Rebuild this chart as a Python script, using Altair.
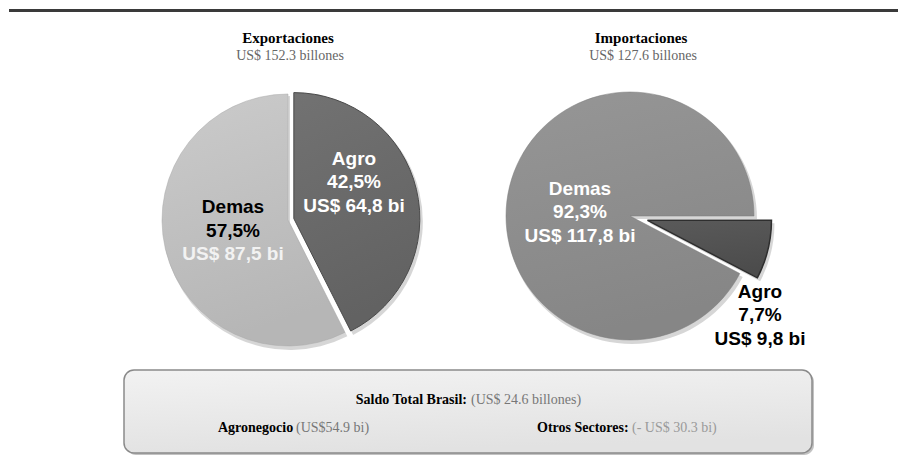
import math
import altair as alt
import pandas as pd

# ---------------- data ----------------
pies = ["Exportaciones", "Importaciones"]
pie_totals = [152.3, 127.6]
categories = ["Agro", "Demas"]
export_values = [64.8, 87.5]
import_values = [9.8, 117.8]
export_pcts = [42.5, 57.5]
import_pcts = [7.7, 92.3]
saldo_label = "Saldo Total Brasil:"
saldo_value = "(US$ 24.6 billones)"
agro_label = "Agronegocio"
agro_value = "(US$54.9 bi)"
otros_label = "Otros Sectores:"
otros_value = "(- US$ 30.3 bi)"


def comma(v, fmt):
    return format(v, fmt).replace(".", ",")


rows = []
for pie, vals, pcts in zip(pies, [export_values, import_values], [export_pcts, import_pcts]):
    tot = sum(vals)
    cum = 0.0
    for cat, v, p in zip(categories, vals, pcts):
        rows.append(dict(pie=pie, category=cat, value=v, pct=p,
                         start=cum / tot, end=(cum + v) / tot,
                         l1=cat, l2=comma(p, ".1f") + "%",
                         l3="US$ " + comma(v, ".1f") + " bi"))
        cum += v
df = pd.DataFrame(rows)

# ---------------- layout ----------------
W, H = 890, 450
LAYOUT = {
    "Exportaciones": dict(cx=280, cy=212, r=126, rot=0.0,
                          explode={"Agro": 6, "Demas": 0}, tx=280),
    "Importaciones": dict(cx=622, cy=208, r=124, rot=math.pi / 2,
                          explode={"Agro": 18, "Demas": 0}, tx=633),
}
FILLS = {
    ("Exportaciones", "Agro"): ("#727272", "#626262"),
    ("Exportaciones", "Demas"): ("#cbcbcb", "#b6b6b6"),
    ("Importaciones", "Agro"): ("#5a5a5a", "#4c4c4c"),
    ("Importaciones", "Demas"): ("#969696", "#868686"),
}
STROKES = {
    ("Exportaciones", "Agro"): ("#4a4a4a", 1),
    ("Exportaciones", "Demas"): ("#a8a8a8", 0.5),
    ("Importaciones", "Agro"): ("#2e2e2e", 1.5),
    ("Importaciones", "Demas"): ("#7a7a7a", 0.5),
}
LABELS = {
    ("Exportaciones", "Agro"): dict(x=346, y=[151, 174, 198], col=["white", "white", "white"]),
    ("Exportaciones", "Demas"): dict(x=225, y=[199, 223, 246], col=["black", "black", "#f2f2f2"]),
    ("Importaciones", "Demas"): dict(x=572, y=[181, 204, 228], col=["white", "white", "white"]),
    ("Importaciones", "Agro"): dict(x=752, y=[284, 307, 331], col=["black", "black", "black"]),
}

theta_scale = alt.Scale(domain=[0, 1], range=[0, 2 * math.pi])


def grad(c1, c2):
    return {"gradient": "linear", "x1": 0, "y1": 0, "x2": 0.25, "y2": 1,
            "stops": [{"offset": 0, "color": c1}, {"offset": 1, "color": c2}]}


def slice_center(pie, cat):
    row = df[(df.pie == pie) & (df.category == cat)].iloc[0]
    L = LAYOUT[pie]
    mid = L["rot"] + math.pi * (row.start + row.end)
    d = L["explode"][cat]
    return L["cx"] + d * math.sin(mid), L["cy"] - d * math.cos(mid)


def slice_layer(pie, cat, shadow=False):
    L = LAYOUT[pie]
    cx, cy = slice_center(pie, cat)
    props = dict(radius=L["r"], thetaOffset=L["rot"], theta2Offset=L["rot"])
    if shadow:
        cx, cy = cx + 2, cy + 3
        props.update(fill="#000000", opacity=0.16, radius=L["r"] + 1)
    else:
        sc, sw = STROKES[(pie, cat)]
        props.update(fill=grad(*FILLS[(pie, cat)]), stroke=sc, strokeWidth=sw)
    return (
        alt.Chart(df)
        .transform_filter(f"datum.pie == '{pie}' && datum.category == '{cat}'")
        .mark_arc(**props)
        .encode(theta=alt.Theta("start:Q", scale=theta_scale),
                theta2="end:Q",
                x=alt.value(cx), y=alt.value(cy))
    )


def label_layers(pie, cat):
    spec = LABELS[(pie, cat)]
    out = []
    for field, y, col in zip(["l1", "l2", "l3"], spec["y"], spec["col"]):
        out.append(
            alt.Chart(df)
            .transform_filter(f"datum.pie == '{pie}' && datum.category == '{cat}'")
            .mark_text(font="Liberation Sans", fontWeight="bold", fontSize=19,
                       color=col, align="center", baseline="middle")
            .encode(x=alt.value(spec["x"]), y=alt.value(y), text=f"{field}:N")
        )
    return out


def text_layer(s, x, y, size=14, color="black", weight="normal",
               font="Liberation Serif", align="center"):
    return (
        alt.Chart(pd.DataFrame({"t": [s]}))
        .mark_text(font=font, fontSize=size, fontWeight=weight, color=color,
                   align=align, baseline="middle")
        .encode(x=alt.value(x), y=alt.value(y), text="t:N")
    )


one = pd.DataFrame({"a": [0]})
layers = []

# top rule
layers.append(alt.Chart(one).mark_rule(color="#3a3a3a", strokeWidth=3)
              .encode(x=alt.value(1), x2=alt.value(W), y=alt.value(2.5)))

# titles
for pie, tot in zip(pies, pie_totals):
    tx = LAYOUT[pie]["tx"]
    layers.append(text_layer(pie, tx, 30, size=15, weight="bold"))
    layers.append(text_layer(f"US$ {tot} billones", tx + 2, 48, size=14, color="#666666"))

# pies: shadows, slices, labels
for pie in pies:
    for cat in categories:
        layers.append(slice_layer(pie, cat, shadow=True))
for pie in pies:
    for cat in ["Demas", "Agro"]:
        layers.append(slice_layer(pie, cat))
for pie in pies:
    for cat in categories:
        layers.extend(label_layers(pie, cat))

# bottom box
layers.append(alt.Chart(one).mark_rect(cornerRadius=10, fill="#9a9a9a", opacity=0.6)
              .encode(x=alt.value(118), x2=alt.value(806), y=alt.value(364), y2=alt.value(447)))
layers.append(alt.Chart(one)
              .mark_rect(cornerRadius=10, fill=grad("#f2f2f2", "#e2e2e2"),
                         stroke="#8a8a8a", strokeWidth=1.5)
              .encode(x=alt.value(116), x2=alt.value(804), y=alt.value(362), y2=alt.value(445)))

layers.append(text_layer(saldo_label, 459, 392, weight="bold", align="right"))
layers.append(text_layer(saldo_value, 463, 392, color="#777777", align="left"))
layers.append(text_layer(agro_label, 210, 420, weight="bold", align="left"))
layers.append(text_layer(agro_value, 288, 420, color="#777777", align="left"))
layers.append(text_layer(otros_label, 529, 420, weight="bold", align="left"))
layers.append(text_layer(otros_value, 624, 420, color="#9a9a9a", align="left"))

chart = (
    alt.layer(*layers)
    .properties(width=W, height=H, padding=0, autosize="none", background="white")
    .configure_view(stroke=None)
)

chart.save("out.html", embed_options={"renderer": "svg", "actions": False})
